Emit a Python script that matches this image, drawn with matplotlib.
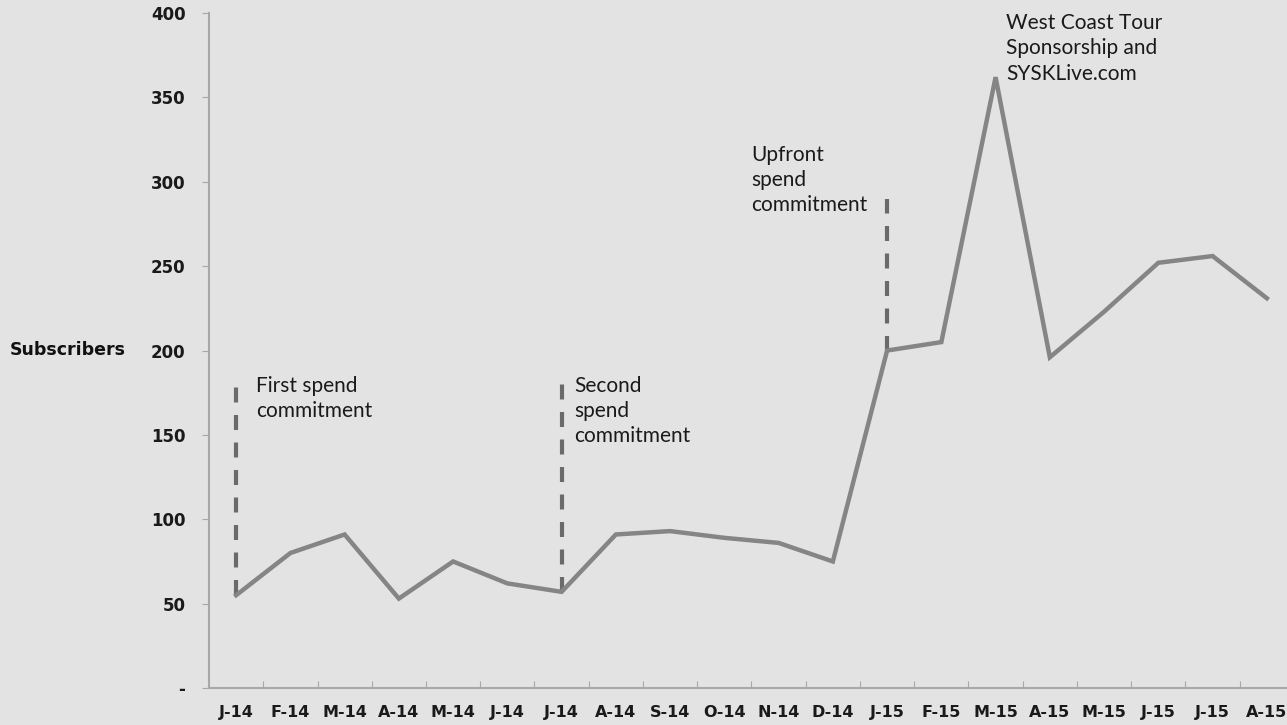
import matplotlib
matplotlib.use("Agg")
import matplotlib.pyplot as plt

# Monthly subscribers, Jan 2014 - Aug 2015
months = ["J-14", "F-14", "M-14", "A-14", "M-14", "J-14", "J-14", "A-14", "S-14", "O-14",
          "N-14", "D-14", "J-15", "F-15", "M-15", "A-15", "M-15", "J-15", "J-15", "A-15"]
subscribers = [55, 80, 91, 53, 75, 62, 57, 91, 93, 89,
               86, 75, 200, 205, 362, 196, 223, 252, 256, 231]
y_ticks = [0, 50, 100, 150, 200, 250, 300, 350, 400]
y_tick_labels = ["-", "50", "100", "150", "200", "250", "300", "350", "400"]

# event markers: (month index, top of dashed line, label)
events_idx = [0, 6, 12]
events_top = [181, 180, 290]
events_text = ["First spend\ncommitment", "Second\nspend\ncommitment", "Upfront\nspend\ncommitment"]
peak_text = "West Coast Tour\nSponsorship and\nSYSKLive.com"

BG = "#e3e3e3"
AXIS = "#a8a8a8"

fig = plt.figure(figsize=(12.87, 7.25), dpi=100, facecolor=BG)
ax = fig.add_axes([0.1624, 0.051, 0.843, 0.931])
ax.set_facecolor(BG)

x = list(range(len(months)))
ax.plot(x, subscribers, color="#858585", lw=3.2, solid_joinstyle="miter", zorder=3)

for i, top in zip(events_idx, events_top):
    ax.plot([i, i], [subscribers[i], top], color="#6a6a6a", lw=3.0,
            dashes=(3.6, 3.0), dash_capstyle="butt", zorder=2)

ann_kw = dict(fontsize=15, family=["Lato", "DejaVu Sans"], color="#1a1a1a",
              va="top", ha="left", linespacing=1.33)
ax.text(0.37, 185, events_text[0], **ann_kw)
ax.text(6.23, 185, events_text[1], **ann_kw)
ax.text(9.49, 322, events_text[2], **ann_kw)
ax.text(14.2, 400, peak_text, **ann_kw)

ax.set_xlim(-0.5, 19.5)
ax.set_ylim(0, 400)
ax.set_xticks([i + 0.5 for i in range(-1, 20)], minor=False)
ax.set_xticklabels([])
ax.set_xticks(x, minor=True)
ax.set_xticklabels(months, minor=True)
ax.tick_params(axis="x", which="major", direction="in", length=5, color=AXIS)
ax.tick_params(axis="x", which="minor", length=0, pad=12, labelsize=11.5)
ax.set_yticks(y_ticks)
ax.set_yticklabels(y_tick_labels)
ax.tick_params(axis="y", direction="out", length=5, color=AXIS, pad=12, labelsize=12)
for lbl in ax.get_xticklabels(minor=True) + ax.get_yticklabels():
    lbl.set_fontweight("bold")
    lbl.set_color("#1a1a1a")

for side in ["top", "right"]:
    ax.spines[side].set_visible(False)
for side in ["left", "bottom"]:
    ax.spines[side].set_color(AXIS)
    ax.spines[side].set_linewidth(1.5)

fig.text(10 / 1287, 1 - 350 / 725, "Subscribers", fontsize=12.5, fontweight="bold",
         color="#111111", va="center", ha="left")

fig.savefig("out.png", dpi=100, facecolor=BG)
